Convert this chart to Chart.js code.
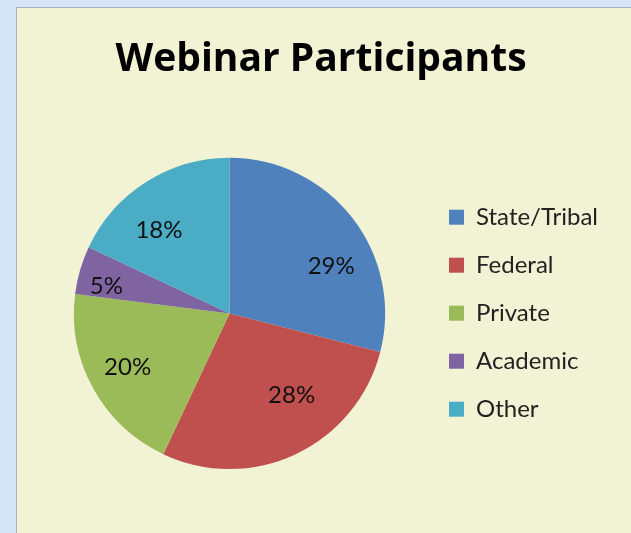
<!DOCTYPE html>
<html>
<head>
<meta charset="utf-8">
<script src="https://cdn.jsdelivr.net/npm/chart.js@4/dist/chart.umd.min.js"></script>
<style>
  html, body { margin: 0; padding: 0; }
  body {
    width: 631px; height: 533px; overflow: hidden;
    background: #d5e5f7;
  }
  #panel {
    position: absolute; left: 16px; top: 7px;
    width: 620px; height: 530px;
    background: #f2f2d4;
    border-left: 1px solid #a9b0b8;
    border-top: 1px solid #a9b0b8;
  }
  #canvas { position: absolute; left: 0; top: 0; }
</style>
</head>
<body>
<div id="panel"><canvas id="canvas" width="614" height="525"></canvas></div>
<script>
let labels = ['State/Tribal', 'Federal', 'Private', 'Academic', 'Other'];
let values = [29, 28, 20, 5, 18];
let colors = ['#4f81bd', '#c0504d', '#9bbb59', '#8064a2', '#4bacc6'];
let title = 'Webinar Participants';

// percentage labels drawn on each slice, nudged a bit like Excel does
let sliceLabels = {
  id: 'sliceLabels',
  afterDatasetsDraw(chart, args, opts) {
    let ctx = chart.ctx;
    let meta = chart.getDatasetMeta(0);
    let total = values.reduce((a, b) => a + b, 0);
    ctx.save();
    ctx.font = '24px Lato';
    ctx.fillStyle = '#111';
    ctx.textAlign = 'center';
    ctx.textBaseline = 'middle';
    meta.data.forEach((arc, i) => {
      let mid = (arc.startAngle + arc.endAngle) / 2 + opts.shift[i] * Math.PI / 180;
      let r = arc.outerRadius * opts.dist[i];
      let pct = Math.round(values[i] / total * 100) + '%';
      ctx.fillText(pct, arc.x + Math.cos(mid) * r, arc.y + Math.sin(mid) * r);
    });
    ctx.restore();
  }
};

let chart = new Chart(document.getElementById('canvas'), {
  type: 'pie',
  data: {
    labels: labels,
    datasets: [{
      data: values,
      backgroundColor: colors,
      borderWidth: 0
    }]
  },
  options: {
    responsive: false,
    animation: false,
    layout: { padding: { left: 17, right: 23, top: 0, bottom: 64 } },
    plugins: {
      title: {
        display: true,
        text: title,
        color: '#000',
        font: { family: '"Open Sans"', size: 39, weight: 'bold' },
        padding: { top: 28, bottom: 75 }
      },
      legend: {
        position: 'right',
        // empty legend title only pushes the entries down level with the pie
        title: { display: true, text: '', padding: { top: 135, bottom: 0 } },
        labels: {
          color: '#222',
          font: { family: 'Lato', size: 24 },
          boxWidth: 15,
          boxHeight: 15,
          padding: 24
        }
      },
      tooltip: { enabled: false },
      sliceLabels: {
        shift: [13, -12, 1, -4, -8],
        dist: [0.72, 0.66, 0.74, 0.81, 0.70]
      }
    }
  },
  plugins: [sliceLabels]
});
</script>
</body>
</html>
